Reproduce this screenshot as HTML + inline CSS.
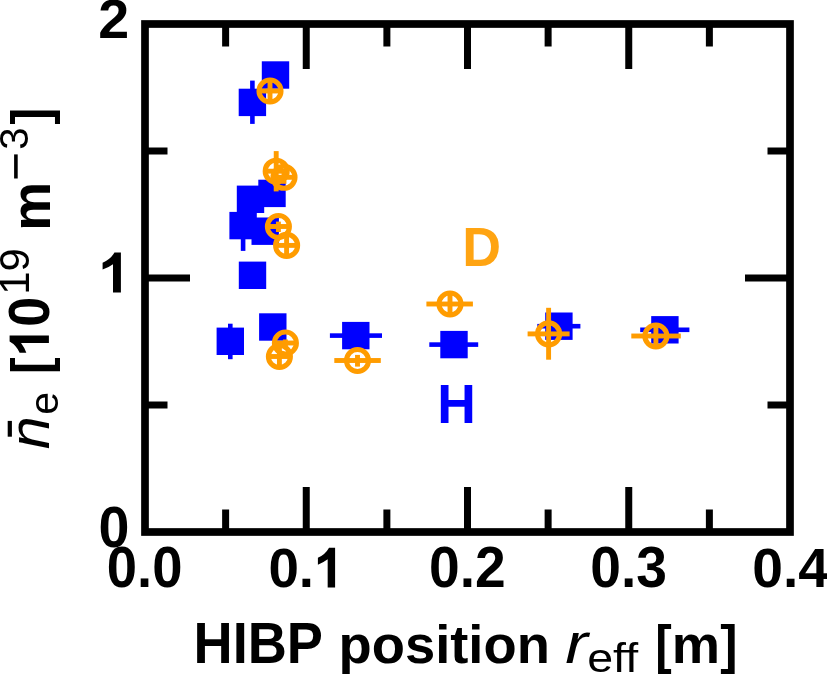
<!DOCTYPE html>
<html><head><meta charset="utf-8"><style>
html,body{margin:0;padding:0;background:#fff;overflow:hidden;}
svg{display:block;will-change:transform;}
text{font-family:"Liberation Sans",sans-serif;font-size:100px;}
.b{font-weight:bold;}
.i{font-style:italic;}
</style></head><body>
<svg width="827" height="674" viewBox="0 0 827 674">
<rect x="261.80" y="61.30" width="27.4" height="27.4" fill="#0000ff"/>
<rect x="238.70" y="88.70" width="27.4" height="27.4" fill="#0000ff"/>
<rect x="250.10" y="80.60" width="4.6" height="43.30" fill="#0000ff"/>
<rect x="258.30" y="179.70" width="27.4" height="27.4" fill="#0000ff"/>
<rect x="236.80" y="185.60" width="27.4" height="27.4" fill="#0000ff"/>
<rect x="229.40" y="211.90" width="27.4" height="27.4" fill="#0000ff"/>
<rect x="240.80" y="200.30" width="4.6" height="50.60" fill="#0000ff"/>
<rect x="251.50" y="217.50" width="27.4" height="27.4" fill="#0000ff"/>
<rect x="238.80" y="261.60" width="27.4" height="27.4" fill="#0000ff"/>
<rect x="216.60" y="327.60" width="27.4" height="27.4" fill="#0000ff"/>
<rect x="228.00" y="323.70" width="4.6" height="35.50" fill="#0000ff"/>
<rect x="259.10" y="313.30" width="27.4" height="27.4" fill="#0000ff"/>
<rect x="342.10" y="321.90" width="27.4" height="27.4" fill="#0000ff"/>
<rect x="329.90" y="333.30" width="52.10" height="4.6" fill="#0000ff"/>
<rect x="440.30" y="330.90" width="27.4" height="27.4" fill="#0000ff"/>
<rect x="429.30" y="342.30" width="48.90" height="4.6" fill="#0000ff"/>
<rect x="545.20" y="312.50" width="27.4" height="27.4" fill="#0000ff"/>
<rect x="537.30" y="323.90" width="43.10" height="4.6" fill="#0000ff"/>
<rect x="651.20" y="316.10" width="27.4" height="27.4" fill="#0000ff"/>
<rect x="640.20" y="327.50" width="49.20" height="4.6" fill="#0000ff"/>
<rect x="267.55" y="80.00" width="4.9" height="22.00" fill="#ff9c00"/>
<rect x="259.00" y="88.55" width="22.00" height="4.9" fill="#ff9c00"/>
<circle cx="270.0" cy="91.0" r="11.0" fill="none" stroke="#ff9c00" stroke-width="5.1"/>
<rect x="273.75" y="151.10" width="4.9" height="40.30" fill="#ff9c00"/>
<rect x="265.20" y="168.75" width="22.00" height="4.9" fill="#ff9c00"/>
<circle cx="276.2" cy="171.2" r="11.0" fill="none" stroke="#ff9c00" stroke-width="5.1"/>
<rect x="281.55" y="171.00" width="4.9" height="12.80" fill="#ff9c00"/>
<rect x="273.00" y="174.85" width="22.00" height="4.9" fill="#ff9c00"/>
<circle cx="284.0" cy="177.3" r="11.0" fill="none" stroke="#ff9c00" stroke-width="5.1"/>
<rect x="275.95" y="221.60" width="4.9" height="10.40" fill="#ff9c00"/>
<rect x="267.40" y="224.05" width="22.00" height="4.9" fill="#ff9c00"/>
<circle cx="278.4" cy="226.5" r="11.0" fill="none" stroke="#ff9c00" stroke-width="5.1"/>
<rect x="284.15" y="234.40" width="4.9" height="22.00" fill="#ff9c00"/>
<rect x="275.60" y="242.95" width="22.00" height="4.9" fill="#ff9c00"/>
<circle cx="286.6" cy="245.4" r="11.0" fill="none" stroke="#ff9c00" stroke-width="5.1"/>
<rect x="282.95" y="339.50" width="4.9" height="7.00" fill="#ff9c00"/>
<rect x="274.40" y="340.55" width="22.00" height="4.9" fill="#ff9c00"/>
<circle cx="285.4" cy="343.0" r="11.0" fill="none" stroke="#ff9c00" stroke-width="5.1"/>
<rect x="276.95" y="345.50" width="4.9" height="22.00" fill="#ff9c00"/>
<rect x="268.40" y="354.05" width="22.00" height="4.9" fill="#ff9c00"/>
<circle cx="279.4" cy="356.5" r="11.0" fill="none" stroke="#ff9c00" stroke-width="5.1"/>
<rect x="355.05" y="354.90" width="4.9" height="11.70" fill="#ff9c00"/>
<rect x="334.30" y="358.05" width="46.50" height="4.9" fill="#ff9c00"/>
<circle cx="357.5" cy="360.5" r="11.0" fill="none" stroke="#ff9c00" stroke-width="5.1"/>
<rect x="447.55" y="293.00" width="4.9" height="22.00" fill="#ff9c00"/>
<rect x="426.40" y="301.55" width="46.50" height="4.9" fill="#ff9c00"/>
<circle cx="450.0" cy="304.0" r="11.0" fill="none" stroke="#ff9c00" stroke-width="5.1"/>
<rect x="546.15" y="307.80" width="4.9" height="51.90" fill="#ff9c00"/>
<rect x="527.60" y="331.45" width="42.00" height="4.9" fill="#ff9c00"/>
<circle cx="548.6" cy="333.9" r="11.0" fill="none" stroke="#ff9c00" stroke-width="5.1"/>
<rect x="653.45" y="325.00" width="4.9" height="22.00" fill="#ff9c00"/>
<rect x="631.30" y="333.55" width="49.50" height="4.9" fill="#ff9c00"/>
<circle cx="655.9" cy="336.0" r="11.0" fill="none" stroke="#ff9c00" stroke-width="5.1"/>
<rect x="145.0" y="24.0" width="645.0" height="508.0" fill="none" stroke="#000" stroke-width="7.7"/>
<line x1="225.62" y1="532.0" x2="225.62" y2="509.5" stroke="#000" stroke-width="7.0"/>
<line x1="225.62" y1="24.0" x2="225.62" y2="46.5" stroke="#000" stroke-width="7.0"/>
<line x1="306.25" y1="532.0" x2="306.25" y2="487.0" stroke="#000" stroke-width="7.0"/>
<line x1="306.25" y1="24.0" x2="306.25" y2="69.0" stroke="#000" stroke-width="7.0"/>
<line x1="386.88" y1="532.0" x2="386.88" y2="509.5" stroke="#000" stroke-width="7.0"/>
<line x1="386.88" y1="24.0" x2="386.88" y2="46.5" stroke="#000" stroke-width="7.0"/>
<line x1="467.50" y1="532.0" x2="467.50" y2="487.0" stroke="#000" stroke-width="7.0"/>
<line x1="467.50" y1="24.0" x2="467.50" y2="69.0" stroke="#000" stroke-width="7.0"/>
<line x1="548.12" y1="532.0" x2="548.12" y2="509.5" stroke="#000" stroke-width="7.0"/>
<line x1="548.12" y1="24.0" x2="548.12" y2="46.5" stroke="#000" stroke-width="7.0"/>
<line x1="628.75" y1="532.0" x2="628.75" y2="487.0" stroke="#000" stroke-width="7.0"/>
<line x1="628.75" y1="24.0" x2="628.75" y2="69.0" stroke="#000" stroke-width="7.0"/>
<line x1="709.38" y1="532.0" x2="709.38" y2="509.5" stroke="#000" stroke-width="7.0"/>
<line x1="709.38" y1="24.0" x2="709.38" y2="46.5" stroke="#000" stroke-width="7.0"/>
<line x1="145.0" y1="405.00" x2="167.5" y2="405.00" stroke="#000" stroke-width="7.0"/>
<line x1="790.0" y1="405.00" x2="767.5" y2="405.00" stroke="#000" stroke-width="7.0"/>
<line x1="145.0" y1="278.00" x2="190.0" y2="278.00" stroke="#000" stroke-width="7.0"/>
<line x1="790.0" y1="278.00" x2="745.0" y2="278.00" stroke="#000" stroke-width="7.0"/>
<line x1="145.0" y1="151.00" x2="167.5" y2="151.00" stroke="#000" stroke-width="7.0"/>
<line x1="790.0" y1="151.00" x2="767.5" y2="151.00" stroke="#000" stroke-width="7.0"/>
<text class="b" transform="matrix(0.55579,0,0,0.57244,98.477,546.628)" fill="#000">0</text>
<text class="b" transform="matrix(0.55625,0,0,0.54624,98.253,38.100)" fill="#000">2</text>
<path d="M120.90,252.60 L120.90,292.50 L113.00,292.50 L113.00,264.20 Q108.53,267.46 102.60,269.60 L102.60,262.78 Q110.71,259.11 114.45,252.60 Z" fill="#000"/>
<text class="b" transform="matrix(0.54427,0,0,0.57102,106.823,587.329)" fill="#000">0.0</text>
<text class="b" transform="matrix(0.54759,0,0,0.56254,268.410,586.937)" fill="#000">0.</text>
<path d="M335.10,547.70 L335.10,587.50 L327.67,587.50 L327.67,559.27 Q323.47,562.52 317.90,564.66 L317.90,557.85 Q325.52,554.20 329.04,547.70 Z" fill="#000"/>
<text class="b" transform="matrix(0.55191,0,0,0.56537,429.092,587.135)" fill="#000">0.2</text>
<text class="b" transform="matrix(0.55209,0,0,0.56961,590.292,587.230)" fill="#000">0.3</text>
<text class="b" transform="matrix(0.55209,0,0,0.56396,752.292,587.036)" fill="#000">0.4</text>
<text class="b" transform="matrix(0.54208,0,0,0.57600,193.541,663.200)" fill="#000">HIBP</text>
<text class="b" transform="matrix(0.54388,0,0,0.54444,338.465,663.200)" fill="#000">position</text>
<text class="i" transform="matrix(0.67914,0,0,0.58047,565.312,663.100)" fill="#000">r</text>
<text class="" transform="matrix(0.46556,0,0,0.40410,587.221,671.996)" fill="#000">eff</text>
<text class="b" transform="matrix(0.49434,0,0,0.53727,655.181,662.852)" fill="#000">[</text>
<text class="b" transform="matrix(0.54295,0,0,0.54326,671.671,663.000)" fill="#000">m</text>
<text class="b" transform="matrix(0.52075,0,0,0.53727,720.349,662.852)" fill="#000">]</text>
<text class="b" transform="matrix(0.53714,0,0,0.55127,462.274,265.900)" fill="#ffa412">D</text>
<text class="b" transform="matrix(0.53447,0,0,0.55418,437.292,423.000)" fill="#0000ff">H</text>
<text class="i" transform="matrix(0,-0.59492,0.57302,0,49.200,449.241)" fill="#000">n</text>
<rect x="7.7" y="420.9" width="4.2" height="15.8" fill="#000"/>
<text class="" transform="matrix(0,-0.41277,0.41096,0,58.289,414.754)" fill="#000">e</text>
<text class="b" transform="matrix(0,-0.50189,0.53619,0,48.974,373.960)" fill="#000">[</text>
<path d="M9.60,335.60 L48.90,335.60 L48.90,342.98 L21.03,342.98 Q24.24,347.16 26.34,352.70 L19.63,352.70 Q16.02,345.12 9.60,341.62 Z" fill="#000"/>
<text class="b" transform="matrix(0,-0.53684,0.56678,0,49.133,326.647)" fill="#000">0</text>
<text class="" transform="matrix(0,-0.41919,0.41919,0,28.500,294.844)" fill="#000">19</text>
<text class="b" transform="matrix(0,-0.54951,0.56186,0,49.900,230.672)" fill="#000">m</text>
<rect x="14.1" y="154.4" width="3.6" height="24.1" fill="#000"/>
<text class="" transform="matrix(0,-0.40211,0.40211,0,27.598,149.708)" fill="#000">3</text>
<text class="b" transform="matrix(0,-0.50943,0.53834,0,49.029,124.537)" fill="#000">]</text>
</svg>
</body></html>
